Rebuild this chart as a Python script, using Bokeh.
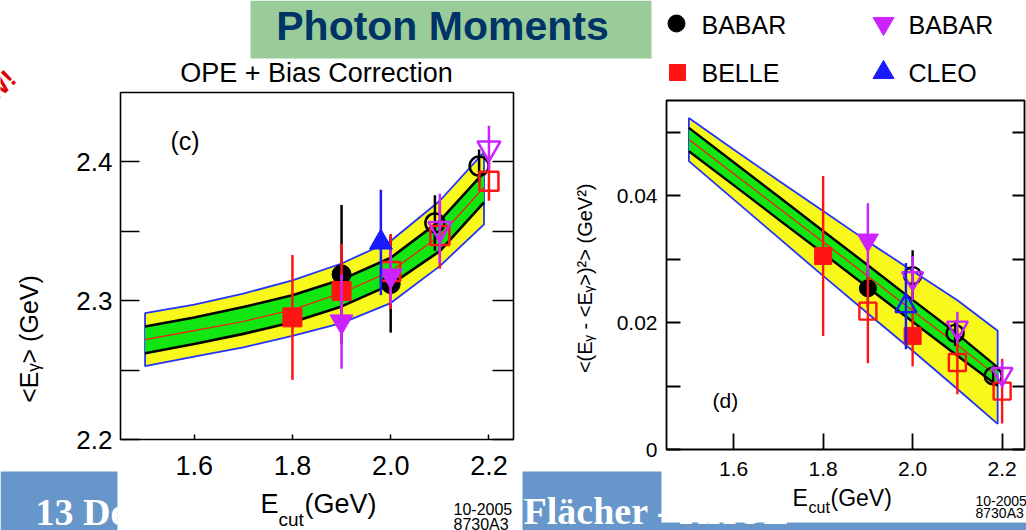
import math
from bokeh.plotting import figure
from bokeh.models import Range1d, LinearAxis, FixedTicker, PrintfTickFormatter
from bokeh.core.properties import value
from bokeh.embed import file_html
from bokeh.resources import INLINE

# ---------------- data ----------------
band_x = [1.50, 1.60, 1.70, 1.80, 1.90, 2.00, 2.10, 2.19]

# panel (c): <E_gamma> (GeV), OPE + bias correction prediction
c_outer_hi = [2.2911, 2.2971, 2.3051, 2.3147, 2.3268, 2.3430, 2.3720, 2.4070]
c_outer_lo = [2.2529, 2.2597, 2.2664, 2.2746, 2.2838, 2.2983, 2.3249, 2.3550]
c_inner_hi = [2.2814, 2.2879, 2.2954, 2.3039, 2.3152, 2.3309, 2.3575, 2.3925]
c_inner_lo = [2.2621, 2.2688, 2.2761, 2.2845, 2.2959, 2.3116, 2.3357, 2.3708]
c_central = [2.2720, 2.2785, 2.2850, 2.2935, 2.3056, 2.3212, 2.3466, 2.3816]

c_babar_x = [1.90, 2.00, 2.09, 2.18]
c_babar_y = [2.319, 2.312, 2.356, 2.397]
c_babar_e = [0.050, 0.035, 0.020, 0.012]
c_babar_f = [True, True, False, False]

c_belle_x = [1.80, 1.90, 2.00, 2.10, 2.20]
c_belle_y = [2.288, 2.307, 2.321, 2.347, 2.386]
c_belle_e = [0.045, 0.034, 0.027, 0.024, 0.014]
c_belle_f = [True, True, False, False, False]

c_babar2_x = [1.90, 2.00, 2.10, 2.20]
c_babar2_y = [2.285, 2.318, 2.352, 2.410]
c_babar2_e = [0.034, 0.020, 0.025, 0.016]
c_babar2_f = [True, True, False, False]

c_cleo_x = [1.98]
c_cleo_y = [2.342]
c_cleo_e = [0.038]
c_cleo_f = [True]

# panel (d): <(E_gamma - <E_gamma>)^2> (GeV^2)
d_outer_hi = [0.05225, 0.04728, 0.04240, 0.03758, 0.03276, 0.02814, 0.02353, 0.01871]
d_outer_lo = [0.04544, 0.03941, 0.03338, 0.02736, 0.02144, 0.01557, 0.00954, 0.00404]
d_inner_hi = [0.05068, 0.04528, 0.03988, 0.03443, 0.02904, 0.02358, 0.01819, 0.01294]
d_inner_lo = [0.04701, 0.04167, 0.03627, 0.03092, 0.02552, 0.02013, 0.01478, 0.01006]
d_central = [0.04885, 0.04345, 0.03810, 0.03270, 0.02731, 0.02186, 0.01651, 0.01148]

d_babar_x = [1.90, 2.00, 2.095, 2.18]
d_babar_y = [0.0254, 0.0274, 0.0183, 0.0116]
d_babar_e = [0.0030, 0.0040, 0.0020, 0.0015]
d_babar_f = [True, False, False, False]

d_belle_x = [1.80, 1.90, 2.00, 2.10, 2.20]
d_belle_y = [0.0305, 0.0218, 0.0179, 0.0137, 0.0092]
d_belle_e = [0.0126, 0.0082, 0.0048, 0.0050, 0.0051]
d_belle_f = [True, False, True, False, False]

d_babar2_x = [1.90, 2.00, 2.10, 2.20]
d_babar2_y = [0.0330, 0.0270, 0.0192, 0.0119]
d_babar2_e = [0.0058, 0.0035, 0.0025, 0.0020]
d_babar2_f = [True, False, False, False]

d_cleo_x = [1.985]
d_cleo_y = [0.0226]
d_cleo_e = [0.0068]
d_cleo_f = [False]

# ticks
c_xticks = [1.6, 1.8, 2.0, 2.2]
c_yticks = [2.2, 2.25, 2.3, 2.35, 2.4]
c_ytick_overrides = {2.25: "", 2.35: ""}
d_xticks = [1.6, 1.8, 2.0, 2.2]
d_yticks = [0.0, 0.01, 0.02, 0.03, 0.04, 0.05]
d_ytick_overrides = {0.0: "0", 0.01: "", 0.03: "", 0.05: ""}

legend_entries = ["BABAR", "BABAR", "BELLE", "CLEO"]

# ---------------- styling / layout ----------------
W, H = 1026, 530
YELLOW = "#f8f81a"
GREEN = "#12e612"
BLUE_EDGE = "#2233ff"
RED = "#ff1414"
PURPLE = "#cc22ff"
CBLUE = "#1a1aff"
FONT = "Liberation Sans"

p = figure(width=W, height=H, x_range=Range1d(0, W), y_range=Range1d(H, 0),
           x_axis_type=None, y_axis_type=None, toolbar_location=None,
           output_backend="svg", min_border=0, outline_line_color=None,
           background_fill_color="white", border_fill_color="white")


def panel_ranges(L, R, T, B, x0, x1, y0, y1):
    kx = (R - L) / (x1 - x0)
    ky = (B - T) / (y1 - y0)
    xr = Range1d(x0 - L / kx, x0 + (W - L) / kx)
    yr = Range1d(y0 - (H - B) / ky, y0 + B / ky)
    return xr, yr


# panel frames in window pixels
C_L, C_R, C_T, C_B = 120, 513, 92, 439
C_X0, C_X1, C_Y0, C_Y1 = 1.45, 2.25, 2.2, 2.45
D_L, D_R, D_T, D_B = 666, 1024, 100, 449
D_X0, D_X1, D_Y0, D_Y1 = 1.45, 2.25, 0.0, 0.055

cxr, cyr = panel_ranges(C_L, C_R, C_T, C_B, C_X0, C_X1, C_Y0, C_Y1)
dxr, dyr = panel_ranges(D_L, D_R, D_T, D_B, D_X0, D_X1, D_Y0, D_Y1)
p.extra_x_ranges = {"cx": cxr, "dx": dxr}
p.extra_y_ranges = {"cy": cyr, "dy": dyr}


def txt(x, y, s, size, color="black", font=FONT, align="left", angle=0.0, bold=False):
    p.text(x=[x], y=[y], text=[s], text_font=value(font), text_font_size=value(f"{size}px"),
           text_color=color, text_align=align, text_baseline="middle", angle=angle,
           text_font_style="bold" if bold else "normal")


# ---------------- slide decorations ----------------
p.quad(left=[0], right=[W], top=[471], bottom=[H], fill_color="#6696ca", line_color=None)
txt(35, 511, "13 December 2005", 38, color="white", font="Liberation Serif", bold=True)
txt(523, 510, "Flächer - RHUL", 38, color="white", font="Liberation Serif", bold=True)
# white picture areas of the two panels
p.quad(left=[117], right=[522], top=[55], bottom=[H], fill_color="white", line_color=None)
p.quad(left=[661], right=[W], top=[95], bottom=[522], fill_color="white", line_color=None)
# title banner
p.quad(left=[250], right=[651], top=[0], bottom=[58], fill_color="#99cc99", line_color=None)
txt(442, 25, "Photon Moments", 41, color="#003366", align="center", bold=True)
txt(11, 74, "NEW!", 26, color="#dd0000", align="right", angle=math.pi / 4, bold=True)


# ---------------- panels ----------------
def band(xr, yr, olo, ohi, ilo, ihi, cen, edge_w):
    xs = band_x + band_x[::-1]
    p.patch(xs, ohi + olo[::-1], fill_color=YELLOW, line_color=BLUE_EDGE, line_width=1.8,
            x_range_name=xr, y_range_name=yr)
    p.patch(xs, ihi + ilo[::-1], fill_color=GREEN, line_color=None,
            x_range_name=xr, y_range_name=yr)
    p.line(band_x, ihi, line_color="black", line_width=edge_w, x_range_name=xr, y_range_name=yr)
    p.line(band_x, ilo, line_color="black", line_width=edge_w, x_range_name=xr, y_range_name=yr)
    p.line(band_x, cen, line_color=RED, line_width=1.2, x_range_name=xr, y_range_name=yr)


def series(xr, yr, xs, ys, es, filled, marker, color, size, lw):
    p.segment(x0=xs, y0=[y - e for y, e in zip(ys, es)], x1=xs, y1=[y + e for y, e in zip(ys, es)],
              line_color=color, line_width=lw, x_range_name=xr, y_range_name=yr)
    fx = [x for x, f in zip(xs, filled) if f]
    fy = [y for y, f in zip(ys, filled) if f]
    ox = [x for x, f in zip(xs, filled) if not f]
    oy = [y for y, f in zip(ys, filled) if not f]
    if fx:
        p.scatter(fx, fy, marker=marker, size=size, fill_color=color, line_color=color,
                  line_width=1, x_range_name=xr, y_range_name=yr)
    if ox:
        p.scatter(ox, oy, marker=marker, size=size, fill_color=None, line_color=color,
                  line_width=lw, x_range_name=xr, y_range_name=yr)


def frame(xr, yr, x0, x1, y0, y1, lw):
    p.quad(left=[x0], right=[x1], bottom=[y0], top=[y1], fill_color=None, line_color="black",
           line_width=lw, x_range_name=xr, y_range_name=yr)


def axis(side, xr, yr, loc, bounds, ticks, tick_in, size, standoff, fmt="%.1f",
         overrides=None, labels=True, lw=1.5):
    ax = LinearAxis(x_range_name=xr, y_range_name=yr, fixed_location=loc, bounds=bounds,
                    ticker=FixedTicker(ticks=ticks, minor_ticks=[]),
                    formatter=PrintfTickFormatter(format=fmt),
                    major_tick_in=tick_in, major_tick_out=0, minor_tick_in=0, minor_tick_out=0,
                    major_tick_line_color="black", major_tick_line_width=lw,
                    axis_line_color=None,
                    major_label_text_font=FONT, major_label_text_font_size=f"{size}px",
                    major_label_standoff=standoff,
                    major_label_text_color="black" if labels else None)
    if overrides:
        ax.major_label_overrides = overrides
    p.add_layout(ax, side)


# panel (c)
frame("cx", "cy", C_X0, C_X1, C_Y0, C_Y1, 1.6)
band("cx", "cy", c_outer_lo, c_outer_hi, c_inner_lo, c_inner_hi, c_central, 2.6)
series("cx", "cy", c_babar_x, c_babar_y, c_babar_e, c_babar_f, "circle", "black", 19, 2.5)
series("cx", "cy", c_belle_x, c_belle_y, c_belle_e, c_belle_f, "square", RED, 19, 2.5)
series("cx", "cy", c_babar2_x, c_babar2_y, c_babar2_e, c_babar2_f, "inverted_triangle", PURPLE, 23, 2.5)
series("cx", "cy", c_cleo_x, c_cleo_y, c_cleo_e, c_cleo_f, "triangle", CBLUE, 23, 2.5)
axis("below", "cx", "cy", C_Y0, (C_X0, C_X1), c_xticks, 5, 27, 16)
axis("left", "cx", "cy", C_X0, (C_Y0, C_Y1), c_yticks, 19, 26, 8, overrides=c_ytick_overrides)
axis("right", "cx", "cy", C_X1, (C_Y0, C_Y1), c_yticks, 21, 26, 8, labels=False)

txt(316, 72, "OPE + Bias Correction", 27, align="center")
txt(170, 140, "(c)", 25)
txt(28, 335, "<E\u1d67>  (GeV)", 25, align="center", angle=math.pi / 2)
txt(260, 503, "E", 27)
txt(278, 519, "cut", 19)
txt(304, 503, "(GeV)", 27)
txt(453, 508, "10-2005", 16)
txt(453, 524, "8730A3", 16)

# panel (d)
frame("dx", "dy", D_X0, D_X1, D_Y0, D_Y1, 1.8)
band("dx", "dy", d_outer_lo, d_outer_hi, d_inner_lo, d_inner_hi, d_central, 2.4)
series("dx", "dy", d_babar_x, d_babar_y, d_babar_e, d_babar_f, "circle", "black", 17, 2.4)
series("dx", "dy", d_belle_x, d_belle_y, d_belle_e, d_belle_f, "square", RED, 17, 2.4)
series("dx", "dy", d_babar2_x, d_babar2_y, d_babar2_e, d_babar2_f, "inverted_triangle", PURPLE, 21, 2.4)
series("dx", "dy", d_cleo_x, d_cleo_y, d_cleo_e, d_cleo_f, "triangle", CBLUE, 21, 2.4)
axis("below", "dx", "dy", D_Y0, (D_X0, D_X1), d_xticks, 16, 21, 12, lw=1.8)
axis("left", "dx", "dy", D_X0, (D_Y0, D_Y1), d_yticks, 14, 21, 9, fmt="%.2f",
     overrides=d_ytick_overrides, lw=1.8)
axis("right", "dx", "dy", D_X1, (D_Y0, D_Y1), d_yticks, 12, 21, 9, labels=False, lw=1.8)

txt(712, 400, "(d)", 21)
txt(584, 275, "<(E\u1d67 - <E\u1d67>)\u00b2>  (GeV\u00b2)", 20, align="center", angle=math.pi / 2)
txt(792, 497, "E", 23)
txt(808, 507, "cut", 16)
txt(830, 497, "(GeV)", 23)
txt(975, 500, "10-2005", 14)
txt(975, 512, "8730A3", 14)

# ---------------- legend ----------------
p.scatter([676], [23], marker="circle", size=17, fill_color="black", line_color="black")
p.scatter([883], [23], marker="inverted_triangle", size=21, fill_color=PURPLE, line_color=PURPLE)
p.scatter([677], [72], marker="square", size=16, fill_color=RED, line_color=RED)
p.scatter([883], [72], marker="triangle", size=21, fill_color=CBLUE, line_color=CBLUE)
txt(701, 24, legend_entries[0], 25)
txt(908, 24, legend_entries[1], 25)
txt(701, 72, legend_entries[2], 25)
txt(908, 72, legend_entries[3], 25)

open("out.html", "w").write(file_html(p, INLINE))
